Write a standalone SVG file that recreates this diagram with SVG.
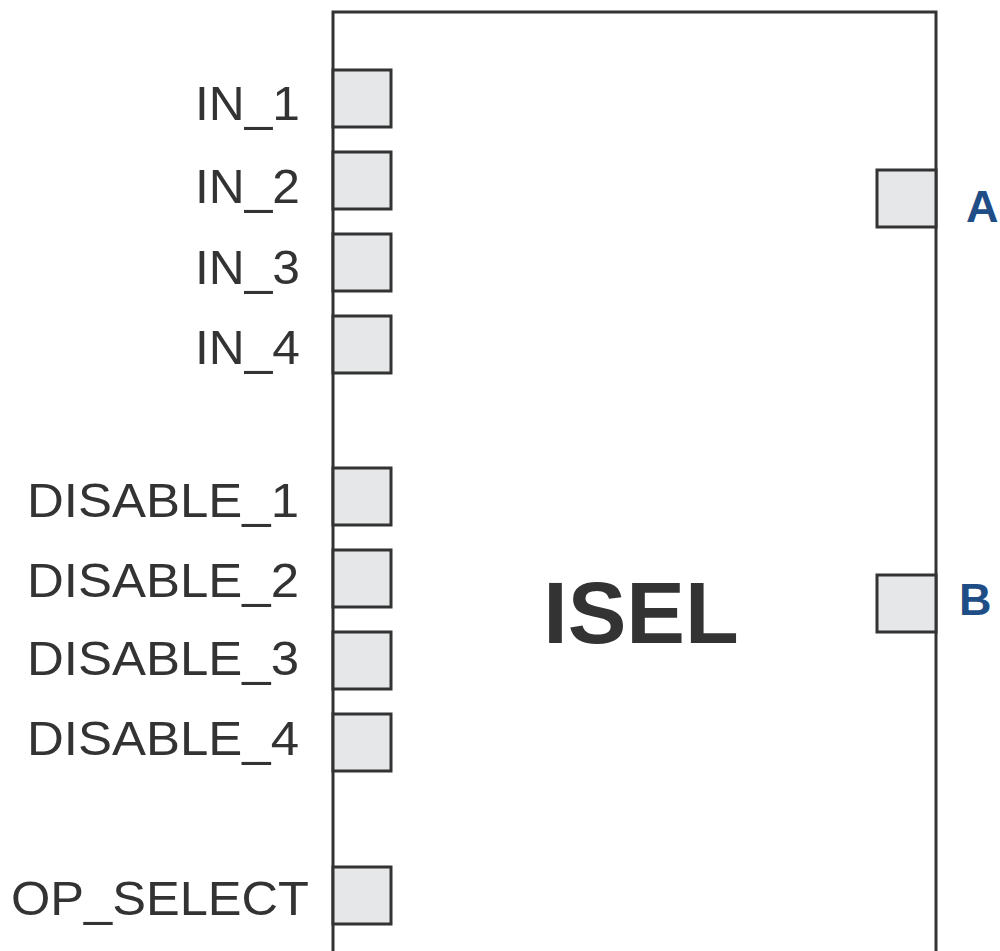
<svg xmlns="http://www.w3.org/2000/svg" width="1000" height="951" viewBox="0 0 1000 951">
<style>
.body{fill:#fff;stroke:#333;stroke-width:3}
.pin{fill:#e6e7e8;stroke:#333;stroke-width:3}
.lbl{font-family:"Liberation Sans",Arial,sans-serif;font-size:49px;fill:#333;text-anchor:end}
.out{font-family:"Liberation Sans",Arial,sans-serif;font-size:45px;font-weight:bold;fill:#1f4e87}
.title{font-family:"Liberation Sans",Arial,sans-serif;font-size:88px;font-weight:bold;fill:#333;text-anchor:middle}
</style>
<rect width="1000" height="951" fill="#fff"/>
<g id="isel">
<rect class="body" x="333" y="12" width="603" height="960"/>
<text class="title" x="641" y="643">ISEL</text>
</g>
<g id="in1"><rect class="pin" x="333" y="70" width="58" height="57"/><text class="lbl" x="300" y="120" textLength="105" lengthAdjust="spacingAndGlyphs">IN_1</text></g>
<g id="in2"><rect class="pin" x="333" y="152" width="58" height="57"/><text class="lbl" x="300" y="203" textLength="105" lengthAdjust="spacingAndGlyphs">IN_2</text></g>
<g id="in3"><rect class="pin" x="333" y="234" width="58" height="57"/><text class="lbl" x="300" y="284" textLength="105" lengthAdjust="spacingAndGlyphs">IN_3</text></g>
<g id="in4"><rect class="pin" x="333" y="316" width="58" height="57"/><text class="lbl" x="300" y="364" textLength="105" lengthAdjust="spacingAndGlyphs">IN_4</text></g>
<g id="dis1"><rect class="pin" x="333" y="468" width="58" height="57"/><text class="lbl" x="299" y="517" textLength="272" lengthAdjust="spacingAndGlyphs">DISABLE_1</text></g>
<g id="dis2"><rect class="pin" x="333" y="550" width="58" height="57"/><text class="lbl" x="299" y="597" textLength="272" lengthAdjust="spacingAndGlyphs">DISABLE_2</text></g>
<g id="dis3"><rect class="pin" x="333" y="632" width="58" height="57"/><text class="lbl" x="299" y="675" textLength="272" lengthAdjust="spacingAndGlyphs">DISABLE_3</text></g>
<g id="dis4"><rect class="pin" x="333" y="714" width="58" height="57"/><text class="lbl" x="299" y="755" textLength="272" lengthAdjust="spacingAndGlyphs">DISABLE_4</text></g>
<g id="opsel"><rect class="pin" x="333" y="867" width="58" height="57"/><text class="lbl" x="309" y="915" textLength="298" lengthAdjust="spacingAndGlyphs">OP_SELECT</text></g>
<g id="outA"><rect class="pin" x="877" y="170" width="59" height="57"/><text class="out" x="966" y="222">A</text></g>
<g id="outB"><rect class="pin" x="877" y="575" width="59" height="57"/><text class="out" x="959" y="615">B</text></g>
<g id="connectors"></g>
</svg>
